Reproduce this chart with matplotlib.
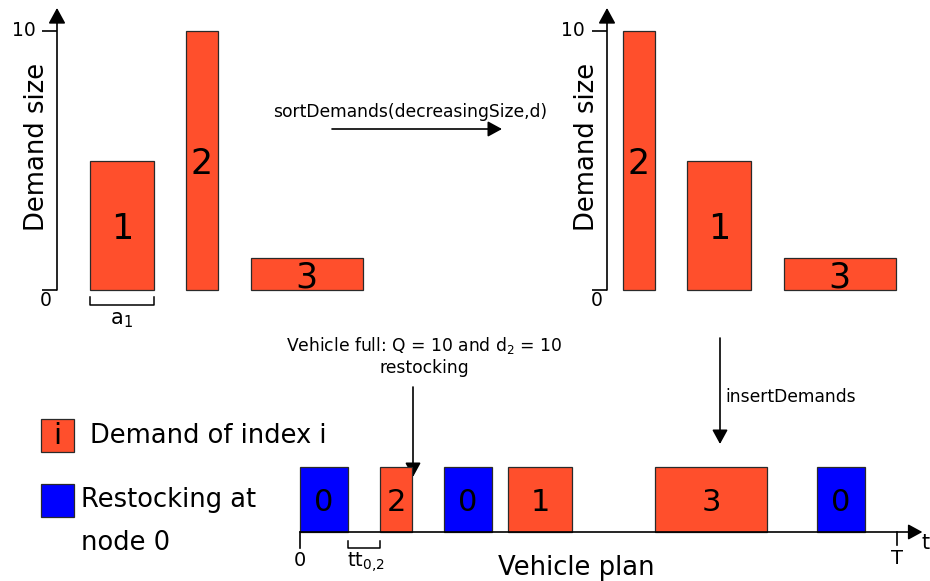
import matplotlib
matplotlib.use("Agg")
import matplotlib.pyplot as plt
from matplotlib.patches import Rectangle

# ---------------- data ----------------
demand_ids = [1, 2, 3]
demand_sizes = [5, 10, 1.25]
demand_durations = [4, 2, 7]
initial_starts = [2.05, 8.05, 12.1]
sorted_order = [2, 1, 3]
sorted_starts = [1, 5, 11.05]
restock_duration = 3
plan_nodes = [0, 2, 0, 1, 3, 0]
plan_starts = [0, 5, 9, 13, 22.2, 32.3]
horizon_T = 37.3
capacity_Q = 10
ytick_values = [0, 10]

RED = "#FF4F2C"
BLUE = "#0000FF"
EDGE = "#2a2a2a"

W, H = 930, 581
fig = plt.figure(figsize=(W / 100, H / 100), dpi=100)


def px_axes(x0, y0, x1, y1):
    ax = fig.add_axes([x0 / W, 1 - y1 / H, (x1 - x0) / W, (y1 - y0) / H])
    ax.set_axis_off()
    return ax


AX_LW = 1.2
HEAD = "-|>,head_length=0.86,head_width=0.47"


def arrow(ax, start, end, coords="data", scale=10):
    ax.annotate("", xy=end, xytext=start, xycoords=coords, textcoords=coords,
                annotation_clip=False,
                arrowprops=dict(arrowstyle=HEAD, mutation_scale=scale, lw=AX_LW,
                                color="black", shrinkA=0, shrinkB=0))


# overlay axes in pixel coordinates for free text
ov = fig.add_axes([0, 0, 1, 1])
ov.set_xlim(0, W)
ov.set_ylim(H, 0)
ov.set_axis_off()

PX_T = 16.0          # pixels per time unit
PX_D = 25.9          # pixels per demand unit


def demand_panel(x_origin, ids, starts):
    ax = px_axes(x_origin, 31, x_origin + 20 * PX_T, 290)
    ax.set_xlim(0, 20)
    ax.set_ylim(0, 10)
    sizes = [demand_sizes[i - 1] for i in ids]
    durs = [demand_durations[i - 1] for i in ids]
    ax.bar(starts, sizes, width=durs, align="edge", color=RED,
           edgecolor=EDGE, linewidth=0.9, clip_on=False)
    for s, h, d, i in zip(starts, sizes, durs, ids):
        ax.text(s + d / 2, h / 2, str(i), ha="center", va="center_baseline",
                fontsize=25)
    # y axis with arrow
    arrow(ax, (0, 0), (0, 10.89), scale=11)
    for v in ytick_values:
        ax.plot([-15 / PX_T, 0], [v, v], color="black", lw=AX_LW, clip_on=False,
                solid_capstyle="butt")
    return ax, starts, durs


axL, sL, dL = demand_panel(57, demand_ids, initial_starts)
axR, sR, dR = demand_panel(607, sorted_order, sorted_starts)

# a_1 bracket under first demand
yb = -15 / PX_D
yt = -7 / PX_D
axL.plot([sL[0], sL[0], sL[0] + dL[0], sL[0] + dL[0]], [yt, yb, yb, yt],
         color="black", lw=1.1, clip_on=False)

# axis labels / tick labels (top panels)
for xc, x10, x0 in [(37, 24, 46), (587, 573, 597)]:
    ov.text(xc, 147, "Demand size", rotation=90, ha="center", va="center",
            fontsize=18.6)
    ov.text(x10, 31, str(ytick_values[1]), ha="center", va="center", fontsize=13.5)
    ov.text(x0, 300, str(ytick_values[0]), ha="center", va="center", fontsize=13.5)
ov.text(121, 320, r"a$_1$", ha="center", va="center", fontsize=15)

# sortDemands arrow
ov.text(410, 112, "sortDemands(decreasingSize,d)", ha="center", va="center",
        fontsize=12.3)
arrow(ov, (332, 129), (502, 129))

# ---------------- vehicle plan ----------------
axB = px_axes(300, 467, 300 + 39 * PX_T, 532)
axB.set_xlim(0, 39)
axB.set_ylim(0, 1)
durs = [restock_duration if n == 0 else demand_durations[n - 1] for n in plan_nodes]
cols = [BLUE if n == 0 else RED for n in plan_nodes]
axB.bar(plan_starts, [1] * len(plan_nodes), width=durs, align="edge",
        color=cols, edgecolor=EDGE, linewidth=0.9, clip_on=False)
for s, d, n in zip(plan_starts, durs, plan_nodes):
    axB.text(s + d / 2, 0.5, str(n), ha="center", va="center_baseline",
             fontsize=22)
arrow(axB, (0, 0), (38.9, 0))
tick_bot = -16 / 65
axB.plot([0, 0], [0, tick_bot], color="black", lw=AX_LW, clip_on=False)
axB.plot([horizon_T, horizon_T], [0, -13 / 65], color="black", lw=AX_LW,
         clip_on=False)
# travel time bracket between first restock and demand 2
g0 = plan_starts[0] + durs[0]
g1 = plan_starts[1]
axB.plot([g0, g0, g1, g1], [-9 / 65, tick_bot, tick_bot, -9 / 65],
         color="black", lw=1.1, clip_on=False)

ov.text(300, 561, "0", ha="center", va="center", fontsize=14)
ov.text(366, 562, r"tt$_{0{,}2}$", ha="center", va="center", fontsize=14)
ov.text(897, 558, "T", ha="center", va="center", fontsize=14)
ov.text(926, 543, "t", ha="center", va="center", fontsize=15)
ov.text(576, 575, "Vehicle plan", ha="center", va="baseline", fontsize=18.6)

ov.text(424, 346, r"Vehicle full: Q = %d and d$_2$ = %d" % (capacity_Q, demand_sizes[1]),
        ha="center", va="center", fontsize=12.3)
ov.text(424, 368, "restocking", ha="center", va="center", fontsize=12.3)
arrow(ov, (413, 387), (413, 477))

ov.text(725, 397, "insertDemands", ha="left", va="center", fontsize=12.3)
arrow(ov, (720, 338), (720, 444))

# ---------------- legend ----------------
ov.add_patch(Rectangle((41, 419), 33, 33, facecolor=RED, edgecolor=EDGE, lw=0.9))
ov.text(57.5, 436, "i", ha="center", va="center", fontsize=21)
ov.text(90, 436, "Demand of index i", ha="left", va="center", fontsize=18.5)
ov.add_patch(Rectangle((41, 484), 33, 33, facecolor=BLUE, edgecolor=EDGE, lw=0.9))
ov.text(81, 500, "Restocking at", ha="left", va="center", fontsize=18.5)
ov.text(81, 543, "node 0", ha="left", va="center", fontsize=18.5)

fig.savefig("out.png", dpi=100)
